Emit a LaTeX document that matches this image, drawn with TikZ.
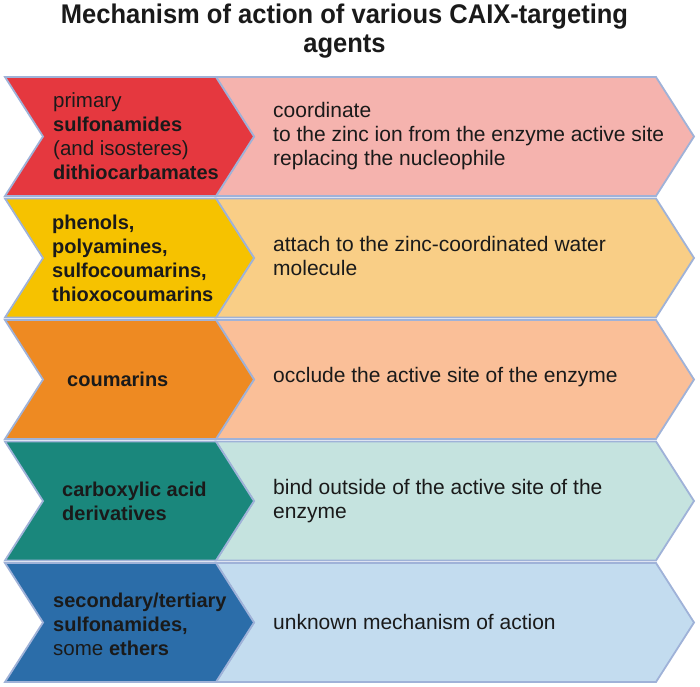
\documentclass[tikz,border=0pt]{standalone}
\usepackage{fontspec}
\setmainfont{Liberation Sans}
\newfontfamily\titlefont[FakeStretch=0.945]{Liberation Sans}
\definecolor{edgec}{RGB}{159,178,216}
\definecolor{txt}{RGB}{26,26,26}
\definecolor{rAL}{RGB}{229,56,63}
\definecolor{rAR}{RGB}{245,179,174}
\definecolor{rBL}{RGB}{246,194,0}
\definecolor{rBR}{RGB}{249,206,134}
\definecolor{rCL}{RGB}{238,138,34}
\definecolor{rCR}{RGB}{250,191,152}
\definecolor{rDL}{RGB}{26,135,124}
\definecolor{rDR}{RGB}{197,227,223}
\definecolor{rEL}{RGB}{43,109,169}
\definecolor{rER}{RGB}{195,220,239}
\newcommand{\bt}[1]{{\fontsize{20}{24}\selectfont\bfseries #1}}
\tikzset{
  shapeedge/.style={draw=edgec, line width=1.8pt, line join=miter},
  lefttext/.style={anchor=west, align=left, inner sep=0pt, text=txt, font=\fontsize{20.5}{24}\selectfont},
  righttext/.style={anchor=west, align=left, inner sep=0pt, text=txt, font=\fontsize{21}{24}\selectfont},
  titletext/.style={anchor=base, inner sep=0pt, text=txt, font=\titlefont\fontsize{27}{30}\selectfont\bfseries}
}
\newcommand{\rowshapes}[4]{%
  \pgfmathsetmacro{\rm}{(#1+#2)/2}
  \filldraw[shapeedge, fill=#4] (216,#1) -- (656,#1) -- (694,\rm) -- (656,#2) -- (216,#2) -- (254,\rm) -- cycle;
  \filldraw[shapeedge, fill=#3] (5,#1) -- (216,#1) -- (254,\rm) -- (216,#2) -- (5,#2) -- (43,\rm) -- cycle;
}
\begin{document}
\begin{tikzpicture}[x=1pt, y=-1pt]
\fill[white] (0,0) rectangle (700,686);
\useasboundingbox (0,0) rectangle (700,686);

\node[titletext] (title1) at (344.5,23) {Mechanism of action of various CAIX-targeting};
\node[titletext] (title2) at (344.5,52.5) {agents};

\rowshapes{77}{196}{rAL}{rAR}
\rowshapes{198.5}{317.5}{rBL}{rBR}
\rowshapes{320}{439}{rCL}{rCR}
\rowshapes{441.5}{560.5}{rDL}{rDR}
\rowshapes{563}{682}{rEL}{rER}

\node[lefttext] (l1) at (53,136.5) {primary\\\bt{sulfonamides}\\(and isosteres)\\\bt{dithiocarbamates}};
\node[righttext] (r1) at (273,136.5) {coordinate\\to the zinc ion from the enzyme active site\\replacing the nucleophile};

\node[lefttext] (l2) at (52,258) {\bt{phenols,}\\\bt{polyamines,}\\\bt{sulfocoumarins,}\\\bt{thioxocoumarins}};
\node[righttext] (r2) at (273,256) {attach to the zinc-coordinated water\\molecule};

\node[lefttext] (l3) at (67,379.5) {\bt{coumarins}};
\node[righttext] (r3) at (273,377) {occlude the active site of the enzyme};

\node[lefttext] (l4) at (62,501) {\bt{carboxylic acid}\\\bt{derivatives}};
\node[righttext] (r4) at (273,501) {bind outside of the active site of the\\enzyme};

\node[lefttext] (l5) at (53,624) {\bt{secondary/tertiary}\\\bt{sulfonamides,}\\some \bt{ethers}};
\node[righttext] (r5) at (273,622) {unknown mechanism of action};
\end{tikzpicture}
\end{document}
